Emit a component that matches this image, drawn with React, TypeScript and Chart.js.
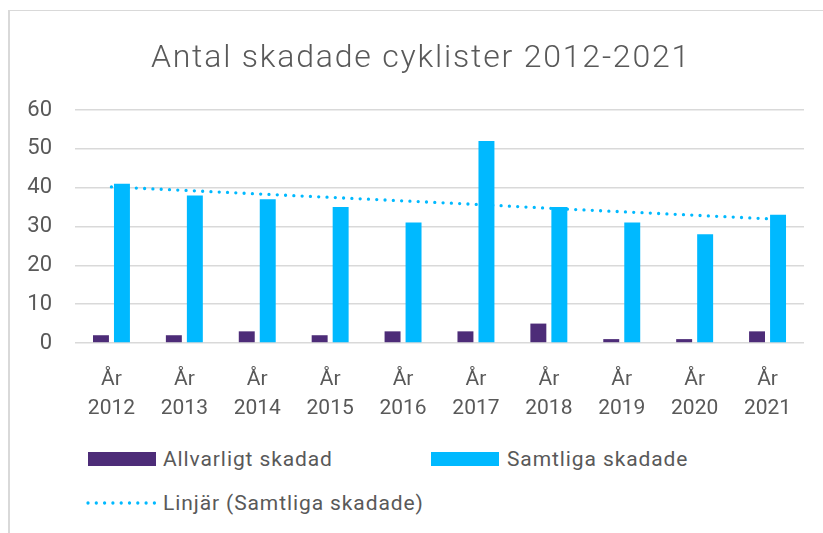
import React, { useEffect, useRef } from "react";
import { Chart, registerables } from "chart.js";

Chart.register(...registerables);

const categories: string[][] = [
  ["År", "2012"], ["År", "2013"], ["År", "2014"], ["År", "2015"], ["År", "2016"],
  ["År", "2017"], ["År", "2018"], ["År", "2019"], ["År", "2020"], ["År", "2021"],
];
const allvarligt: number[] = [2, 2, 3, 2, 3, 3, 5, 1, 1, 3];
const samtliga: number[] = [41, 38, 37, 35, 31, 52, 35, 31, 28, 33];
const linjar: number[] = [40.2, 39.3, 38.4, 37.5, 36.6, 35.7, 34.7, 33.8, 32.9, 32.0];
const yTicks: number[] = [0, 10, 20, 30, 40, 50, 60];

const PURPLE = "#4D2C78";
const BLUE = "#00B9FF";
const TEXT = "#595959";
const FONT = "Roboto, 'Noto Sans', sans-serif";

export default function App() {
  const ref = useRef<HTMLCanvasElement>(null);

  useEffect(() => {
    if (!ref.current) return;
    const chart = new Chart(ref.current, {
      type: "bar",
      data: {
        labels: categories,
        datasets: [
          {
            type: "bar",
            label: "Allvarligt skadad",
            data: allvarligt,
            backgroundColor: PURPLE,
            categoryPercentage: 0.576,
            barPercentage: 0.76,
            order: 1,
          },
          {
            type: "bar",
            label: "Samtliga skadade",
            data: samtliga,
            backgroundColor: BLUE,
            categoryPercentage: 0.576,
            barPercentage: 0.76,
            order: 2,
          },
          {
            type: "line",
            label: "Linjär (Samtliga skadade)",
            data: linjar,
            borderColor: BLUE,
            borderWidth: 3.3,
            borderDash: [0, 8.3],
            borderCapStyle: "round",
            pointRadius: 0,
            fill: false,
            tension: 0,
            order: 3,
          } as any,
        ],
      },
      options: {
        animation: false,
        responsive: false,
        maintainAspectRatio: false,
        layout: { padding: { top: 110, left: 0, right: 19, bottom: 14 } },
        plugins: {
          legend: { display: false },
          title: { display: false },
          tooltip: { enabled: false },
        },
        scales: {
          x: {
            grid: { display: false },
            border: { display: false },
            ticks: {
              color: TEXT,
              font: { family: FONT, size: 21, lineHeight: 1.38 },
              padding: 14,
              maxRotation: 0,
              autoSkip: false,
            },
            afterFit: (s: any) => { s.height = 73; },
          },
          y: {
            min: 0,
            max: 60,
            afterBuildTicks: (s: any) => { s.ticks = yTicks.map((v) => ({ value: v })); },
            grid: { color: "#d9d9d9", lineWidth: 1.6, drawTicks: false },
            border: { display: false },
            ticks: {
              color: TEXT,
              font: { family: FONT, size: 22 },
              padding: 23,
            },
            afterFit: (s: any) => { s.width = 75; },
          },
        },
      },
    });
    return () => chart.destroy();
  }, []);

  const legendText: React.CSSProperties = {
    position: "absolute",
    fontFamily: FONT,
    fontSize: 21,
    color: TEXT,
    lineHeight: "24px",
    letterSpacing: "0.9px",
    whiteSpace: "nowrap",
  };

  return (
    <div style={{ position: "fixed", left: 0, top: 0, width: 823, height: 533, overflow: "hidden", background: "#fff" }}>
      <div style={{ position: "absolute", left: 8, top: 10, width: 840, height: 560, borderTop: "1px solid #d9d9d9", borderLeft: "2px solid #d9d9d9", boxSizing: "border-box" }} />
      <canvas ref={ref} width={823} height={430} style={{ position: "absolute", left: 0, top: 0, width: 823, height: 430 }} />
      <div style={{ position: "absolute", left: 0, top: 36, width: 842, textAlign: "center", fontFamily: FONT, fontSize: 32, fontWeight: 300, letterSpacing: "1.8px", color: TEXT, lineHeight: "40px", whiteSpace: "nowrap" }}>
        Antal skadade cyklister 2012-2021
      </div>
      <div style={{ position: "absolute", left: 88, top: 452, width: 68, height: 14, background: PURPLE }} />
      <div style={{ ...legendText, left: 163, top: 447 }}>Allvarligt skadad</div>
      <div style={{ position: "absolute", left: 431, top: 452, width: 68, height: 14, background: BLUE }} />
      <div style={{ ...legendText, left: 507, top: 447 }}>Samtliga skadade</div>
      <svg style={{ position: "absolute", left: 84, top: 498 }} width={76} height={10}>
        <line x1={4} y1={5} x2={72} y2={5} stroke={BLUE} strokeWidth={3.3} strokeLinecap="round" strokeDasharray="0 8.3" />
      </svg>
      <div style={{ ...legendText, left: 163, top: 491 }}>Linjär (Samtliga skadade)</div>
    </div>
  );
}
